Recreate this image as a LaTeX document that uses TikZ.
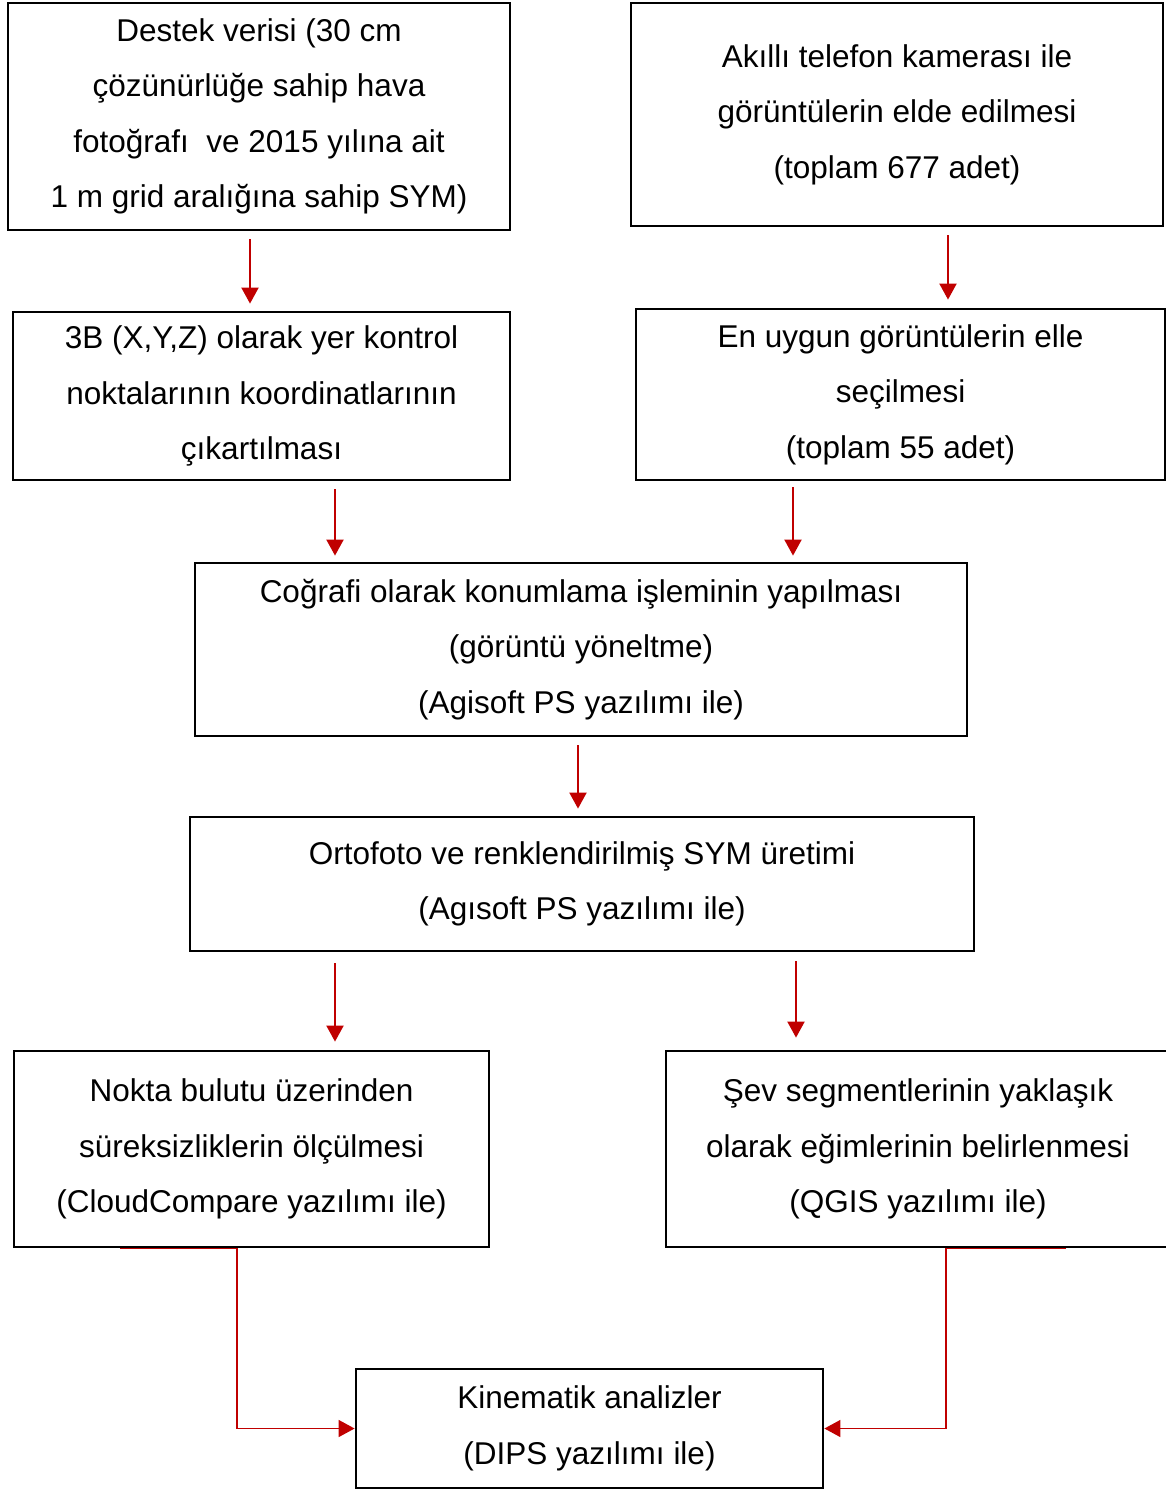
\documentclass[tikz,border=0pt]{standalone}
\usepackage{fontspec}
\setmainfont{Liberation Sans}
\usetikzlibrary{positioning,arrows.meta,calc}
\definecolor{flowred}{HTML}{C00000}

\begin{document}
\begin{tikzpicture}[
  x=1pt, y=-1pt,
  every node/.style={font=\fontsize{31.5}{55.5}\selectfont},
  box/.style={
    draw=black, line width=2.8pt, fill=white, align=center,
    inner sep=0pt,
  },
  flow/.style={-{Triangle[length=16pt,width=17pt]}, line width=2pt, flowred},
  elbow/.style={-{Triangle[length=16pt,width=17pt]}, line width=1.4pt, flowred},
]
  \useasboundingbox (0,0) rectangle (1166,1490);

  % Top row
  \node[box, minimum width=502pt, minimum height=227pt] (destek) at (259,116.5)
    {Destek verisi (30 cm\\ çözünürlüğe sahip hava\\ fotoğrafı\ \ ve 2015 yılına ait\\ 1 m grid aralığına sahip SYM)};
  \node[box, minimum width=532pt, minimum height=223pt] (kamera) at (897,114.5)
    {Akıllı telefon kamerası ile\\ görüntülerin elde edilmesi\\ (toplam 677 adet)};

  % Second row
  \node[box, minimum width=497pt, minimum height=168pt] (ykn) at (261.5,396)
    {3B (X,Y,Z) olarak yer kontrol\\ noktalarının koordinatlarının\\ çıkartılması};
  \node[box, minimum width=529pt, minimum height=171pt] (secim) at (900.5,394.5)
    {En uygun görüntülerin elle\\ seçilmesi\\ (toplam 55 adet)};

  % Middle column
  \node[box, minimum width=772pt, minimum height=173pt] (konum) at (581,649.5)
    {Coğrafi olarak konumlama işleminin yapılması\\ (görüntü yöneltme)\\ (Agisoft PS yazılımı ile)};
  \node[box, minimum width=784pt, minimum height=134pt] (orto) at (582,884)
    {Ortofoto ve renklendirilmiş SYM üretimi\\ (Agısoft PS yazılımı ile)};

  % Fourth row
  \node[box, minimum width=475pt, minimum height=196pt] (nokta) at (251.5,1149)
    {Nokta bulutu üzerinden\\ süreksizliklerin ölçülmesi\\ (CloudCompare yazılımı ile)};
  \node[box, minimum width=504pt, minimum height=196pt] (sev) at (918,1149)
    {Şev segmentlerinin yaklaşık\\ olarak eğimlerinin belirlenmesi\\ (QGIS yazılımı ile)};

  % Bottom
  \node[box, minimum width=467pt, minimum height=119pt] (kinem) at (589.5,1428.5)
    {Kinematik analizler\\ (DIPS yazılımı ile)};

  \coordinate (gl) at ($(nokta.south)+(-131.5,0)$);
  \coordinate (gr) at ($(sev.south)+(148,0)$);

  \draw[flow] ([xshift=-9pt,yshift=-8pt]destek.south) -- ([xshift=-9pt,yshift=7pt]destek.south |- ykn.north);
  \draw[flow] ([xshift=51pt,yshift=-8pt]kamera.south) -- ([xshift=51pt,yshift=8pt]kamera.south |- secim.north);
  \draw[flow] ([xshift=73.5pt,yshift=-8pt]ykn.south) -- ([xshift=73.5pt,yshift=6pt]ykn.south |- konum.north);
  \draw[flow] ([xshift=-107.5pt,yshift=-6pt]secim.south) -- ([xshift=-107.5pt,yshift=6pt]secim.south |- konum.north);
  \draw[flow] ([xshift=-3pt,yshift=-8pt]konum.south) -- ([xshift=-3pt,yshift=7pt]konum.south |- orto.north);
  \draw[flow] ([xshift=-247pt,yshift=-11pt]orto.south) -- ([xshift=-247pt,yshift=8pt]orto.south |- nokta.north);
  \draw[flow] ([xshift=214pt,yshift=-9pt]orto.south) -- ([xshift=214pt,yshift=12pt]orto.south |- sev.north);

  \draw[elbow] (gl) -- ([xshift=-14.5pt]nokta.south) |- (kinem.west);
  \draw[elbow] (gr) -- ([xshift=28pt]sev.south) |- (kinem.east);
\end{tikzpicture}
\end{document}
